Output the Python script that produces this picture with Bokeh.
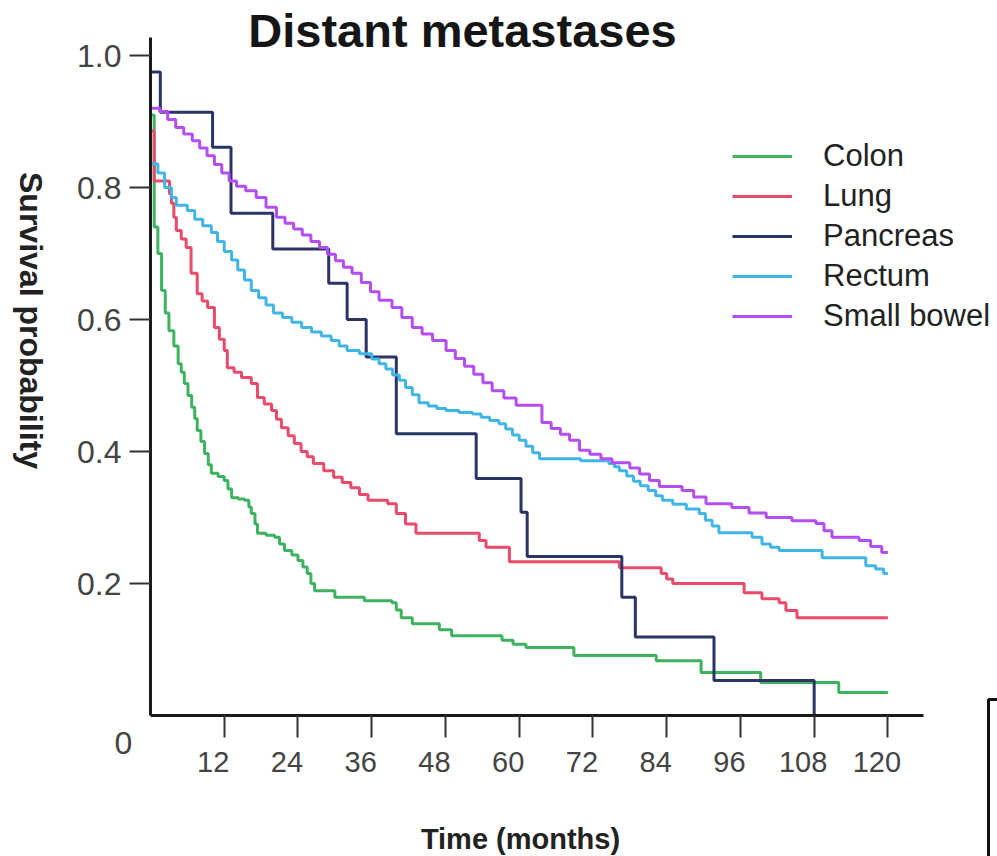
from math import pi
from bokeh.plotting import figure
from bokeh.models import Legend, LegendItem, Label, FixedTicker, Range1d, BoxAnnotation
from bokeh.core.properties import value
from bokeh.embed import file_html
from bokeh.resources import INLINE

# ---------------- data ----------------
series_names = ["Colon", "Lung", "Pancreas", "Rectum", "Small bowel"]
series_colors = ["#3db35f", "#e94b6b", "#2a3565", "#41b6e6", "#b54ef2"]

colon_t = [0, 0.6, 1.2, 1.8, 2.4, 3.0, 3.8, 4.5, 5.0, 5.5, 6.1, 6.7, 7.2, 7.6, 8.2, 8.8, 9.4, 9.9,
           11.0, 12.0, 12.6, 13.2, 14.3, 15.3, 16.0, 16.4, 17.0, 17.4, 18.8, 20.2, 21.0, 21.8, 23.0,
           24.0, 24.8, 25.5, 26.1, 26.7, 30.0, 34.8, 39.3, 40.0, 40.8, 42.6, 47.0, 49.0, 57.2, 59.0,
           61.1, 68.9, 82.3, 89.6, 99.3, 112.0, 120]
colon_s = [0.91, 0.74, 0.70, 0.644, 0.61, 0.583, 0.56, 0.533, 0.52, 0.503, 0.485, 0.467, 0.45, 0.432,
           0.415, 0.397, 0.38, 0.367, 0.362, 0.356, 0.343, 0.33, 0.328, 0.326, 0.316, 0.306, 0.29,
           0.276, 0.273, 0.27, 0.26, 0.25, 0.243, 0.235, 0.225, 0.215, 0.2, 0.189, 0.179, 0.174,
           0.171, 0.16, 0.148, 0.139, 0.13, 0.121, 0.114, 0.108, 0.103, 0.091, 0.083, 0.065, 0.05,
           0.035, 0.035]

lung_t = [0, 0.6, 3.1, 3.4, 3.8, 4.2, 5.0, 5.8, 6.6, 7.6, 8.4, 9.3, 10.4, 11.2, 12.0, 12.5, 13.6,
          14.8, 16.4, 17.4, 18.5, 19.7, 20.5, 21.3, 22.4, 23.4, 24.5, 25.5, 26.5, 28.2, 29.8, 31.2,
          32.6, 34.0, 35.4, 38.6, 40.0, 41.5, 43.2, 53.5, 54.6, 58.4, 76.3, 83.1, 84.0, 85.0, 96.6,
          99.5, 102.3, 103.4, 105.2, 120]
lung_s = [0.886, 0.81, 0.79, 0.776, 0.755, 0.735, 0.722, 0.709, 0.67, 0.639, 0.628, 0.618, 0.588,
          0.57, 0.553, 0.527, 0.52, 0.512, 0.503, 0.482, 0.472, 0.462, 0.449, 0.436, 0.424, 0.412,
          0.40, 0.392, 0.382, 0.371, 0.361, 0.353, 0.345, 0.335, 0.326, 0.321, 0.306, 0.29, 0.276,
          0.265, 0.255, 0.233, 0.224, 0.215, 0.207, 0.20, 0.186, 0.177, 0.171, 0.159, 0.148, 0.148]

pancreas_t = [0, 1.6, 10.1, 13.1, 19.9, 29.0, 32.0, 35.1, 40.0, 53.0, 60.3, 61.3, 76.7, 78.9, 91.7, 108.0]
pancreas_s = [0.975, 0.914, 0.861, 0.761, 0.707, 0.655, 0.60, 0.543, 0.427, 0.359, 0.308, 0.241,
              0.179, 0.119, 0.053, 0.0]

rectum_t = [0, 1.2, 2.3, 3.4, 4.2, 6.0, 7.2, 8.5, 9.9, 10.9, 12.0, 13.2, 14.2, 15.3, 16.4, 17.6, 18.8,
            20.0, 21.5, 23.0, 24.6, 26.2, 27.8, 29.4, 30.7, 32.0, 34.0, 36.0, 37.2, 38.3, 39.4, 40.5,
            41.5, 42.6, 43.7, 45.2, 46.6, 48.1, 50.2, 52.4, 53.8, 55.2, 56.7, 57.8, 58.9, 60.0, 61.1,
            62.2, 63.3, 70.0, 74.6, 75.5, 76.3, 77.5, 78.6, 79.7, 81.0, 82.2, 83.3, 85.0, 87.2, 89.3,
            90.3, 91.4, 92.5, 97.9, 99.5, 100.9, 102.3, 109.3, 116.4, 118.0, 119.3, 120.0]
rectum_s = [0.836, 0.822, 0.80, 0.785, 0.773, 0.765, 0.752, 0.742, 0.732, 0.718, 0.703, 0.69, 0.675,
            0.66, 0.644, 0.633, 0.622, 0.61, 0.603, 0.596, 0.588, 0.581, 0.575, 0.568, 0.56, 0.553,
            0.548, 0.54, 0.533, 0.525, 0.516, 0.508, 0.497, 0.486, 0.474, 0.469, 0.465, 0.462, 0.459,
            0.457, 0.452, 0.447, 0.442, 0.434, 0.425, 0.417, 0.408, 0.398, 0.389, 0.386, 0.382, 0.377,
            0.371, 0.363, 0.355, 0.348, 0.341, 0.333, 0.326, 0.32, 0.313, 0.306, 0.296, 0.287, 0.277,
            0.27, 0.26, 0.255, 0.25, 0.239, 0.227, 0.222, 0.215, 0.215]

small_bowel_t = [0, 1.5, 2.8, 4.1, 5.4, 6.8, 8.0, 9.2, 10.4, 11.6, 12.8, 14.0, 15.5, 17.2, 18.8, 20.5,
                 21.9, 23.3, 24.7, 26.1, 27.5, 28.8, 30.1, 31.4, 32.8, 34.3, 35.8, 37.2, 39.3, 40.9,
                 42.6, 44.2, 45.9, 48.1, 49.6, 51.1, 52.6, 54.1, 55.6, 57.5, 59.5, 63.7, 65.2, 66.7,
                 68.2, 69.8, 71.5, 73.3, 75.1, 78.0, 79.6, 81.2, 82.8, 86.5, 88.4, 90.4, 94.6, 97.4,
                 100.2, 104.4, 108.3, 109.6, 110.9, 115.3, 117.2, 119.0, 120.0]
small_bowel_s = [0.92, 0.915, 0.903, 0.891, 0.881, 0.871, 0.86, 0.848, 0.835, 0.822, 0.81, 0.802,
                 0.795, 0.785, 0.77, 0.755, 0.746, 0.737, 0.728, 0.718, 0.709, 0.699, 0.689, 0.679,
                 0.67, 0.656, 0.642, 0.629, 0.618, 0.603, 0.588, 0.578, 0.568, 0.553, 0.541, 0.529,
                 0.517, 0.504, 0.492, 0.481, 0.47, 0.444, 0.435, 0.426, 0.417, 0.402, 0.396, 0.389,
                 0.383, 0.375, 0.366, 0.356, 0.347, 0.341, 0.331, 0.321, 0.315, 0.307, 0.30, 0.295,
                 0.291, 0.28, 0.27, 0.265, 0.256, 0.247, 0.247]

x_ticks = [12, 24, 36, 48, 60, 72, 84, 96, 108, 120]
x_tick_labels = ["12", "24", "36", "48", "60", "72", "84", "96", "108", "120"]
y_ticks = [0.2, 0.4, 0.6, 0.8, 1.0]
y_tick_labels = ["0.2", "0.4", "0.6", "0.8", "1.0"]

title_text = "Distant metastases"
x_label_text = "Time (months)"
y_label_text = "Survival probability"

# ---------------- layout constants (pixels) ----------------
W, H = 997, 856
X0_PX, Y0_PX = 150, 715          # where (0, 0) sits
PX_PER_MONTH = 6.145
PX_PER_UNIT = 660.0
X_AXIS_END = 125.8
Y_AXIS_END = 1.027
FONT = "Liberation Sans"


def mx(px):
    return (px - X0_PX) / PX_PER_MONTH


def py(px):
    return (Y0_PX - px) / PX_PER_UNIT


p = figure(width=W, height=H, output_backend="svg", toolbar_location=None, title=None,
           x_range=Range1d(mx(0), mx(W)), y_range=Range1d(py(H), py(0)),
           min_border_left=0, min_border_right=0, min_border_top=0, min_border_bottom=0,
           background_fill_color="white", border_fill_color="white")
p.outline_line_color = None
p.grid.grid_line_color = None

for ax in (p.xaxis, p.yaxis):
    ax.fixed_location = 0
    ax.axis_line_width = 3
    ax.axis_line_color = "#1a1a1a"
    ax.major_tick_line_width = 2
    ax.major_tick_line_color = "#333333"
    ax.major_tick_in = 0
    ax.minor_tick_line_color = None
    ax.major_label_text_font = FONT
    ax.major_label_text_color = "#444444"

p.xaxis.bounds = (0, X_AXIS_END)
p.xaxis.ticker = FixedTicker(ticks=x_ticks)
p.xaxis.major_tick_out = 22
p.xaxis.major_label_overrides = {t: "" for t in x_ticks}

p.yaxis.bounds = (0, Y_AXIS_END)
p.yaxis.ticker = FixedTicker(ticks=y_ticks)
p.yaxis.major_label_overrides = {t: l for t, l in zip(y_ticks, y_tick_labels)}
p.yaxis.major_tick_out = 21
p.yaxis.major_label_standoff = 8
p.yaxis.major_label_text_font_size = "32px"

# x tick labels (sit slightly left of their ticks in the reference)
p.text(x=x_ticks, y=[0] * len(x_ticks), text=x_tick_labels, x_offset=-11, y_offset=46,
       text_align="center", text_baseline="middle", text_font=value(FONT),
       text_font_size=value("29px"), text_color="#444444")

all_t = [colon_t, lung_t, pancreas_t, rectum_t, small_bowel_t]
all_s = [colon_s, lung_s, pancreas_s, rectum_s, small_bowel_s]

items = []
for name, col, t, s in zip(series_names, series_colors, all_t, all_s):
    r = p.step(t, s, mode="after", line_width=3, line_color=col)
    items.append(LegendItem(label=name, renderers=[r]))

legend = Legend(items=items, location=(732, 522), orientation="vertical",
                label_text_font=FONT, label_text_font_size="31px", label_text_color="#222222",
                glyph_width=60, glyph_height=36, label_height=36, label_standoff=31,
                spacing=4, padding=0, margin=0,
                border_line_color=None, background_fill_alpha=0)
p.add_layout(legend)

# texts placed around the axes
p.add_layout(Label(x=mx(462), y=py(30), text=title_text, text_font=FONT, text_font_style="bold",
                   text_font_size="47px", text_align="center", text_baseline="middle",
                   text_color="#151515"))
p.add_layout(Label(x=mx(520), y=py(838), text=x_label_text, text_font=FONT, text_font_style="bold",
                   text_font_size="29px", text_align="center", text_baseline="middle",
                   text_color="#222222"))
p.add_layout(Label(x=mx(30), y=py(320), text=y_label_text, text_font=FONT, text_font_style="bold",
                   text_font_size="32px", text_align="center", text_baseline="middle",
                   angle=-pi / 2, text_color="#222222"))
p.add_layout(Label(x=mx(123), y=py(742), text="0", text_font=FONT, text_font_size="32px",
                   text_align="center", text_baseline="middle", text_color="#444444"))

# edge of a neighbouring panel visible in the bottom-right corner of the reference
p.add_layout(BoxAnnotation(left=mx(988), right=mx(W + 50), top=py(699), bottom=py(H + 50),
                           fill_alpha=0, line_alpha=1, line_color="#111111", line_width=3))

open("out.html", "w").write(file_html(p, INLINE))
